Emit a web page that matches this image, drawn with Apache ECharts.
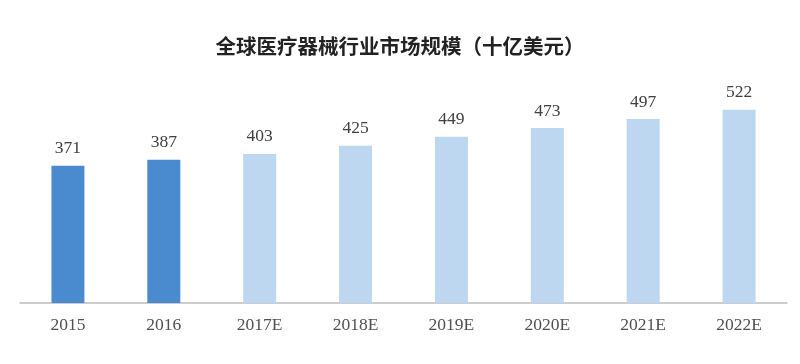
<!DOCTYPE html>
<html>
<head>
<meta charset="utf-8">
<script src="https://cdn.jsdelivr.net/npm/echarts@6/dist/echarts.min.js"></script>
<style>html,body{margin:0;padding:0;background:#fff}#c{width:800px;height:364px}</style>
</head>
<body>
<div id="c"></div>
<script>
const title = '全球医疗器械行业市场规模（十亿美元）';
const categories = ['2015', '2016', '2017E', '2018E', '2019E', '2020E', '2021E', '2022E'];
const values = [371, 387, 403, 425, 449, 473, 497, 522];

const chart = echarts.init(document.getElementById('c'));
chart.setOption({
  animation: false,
  backgroundColor: '#ffffff',
  title: {
    text: title,
    left: 'center',
    top: 31,
    textStyle: { fontFamily: 'Noto Sans CJK SC', fontSize: 20.5, fontWeight: 'bold', color: '#222222' }
  },
  grid: { left: 20, right: 13, top: 81, bottom: 61 },
  xAxis: {
    type: 'category',
    data: categories,
    axisLine: { lineStyle: { color: '#bcbcbc', width: 1.5 } },
    axisTick: { show: false },
    axisLabel: { fontFamily: 'Liberation Serif', fontSize: 17.5, color: '#505050', margin: 13 }
  },
  yAxis: {
    type: 'value',
    min: 0,
    max: 600,
    show: false,
    splitLine: { show: false }
  },
  series: [{
    type: 'bar',
    data: values,
    barWidth: 33,
    itemStyle: {
      color: p => categories[p.dataIndex].endsWith('E') ? '#bcd7ef' : '#4a8bd0'
    },
    label: {
      show: true,
      position: 'top',
      distance: 8,
      fontFamily: 'Liberation Serif',
      fontSize: 17.5,
      color: '#404040'
    }
  }]
});
</script>
</body>
</html>
